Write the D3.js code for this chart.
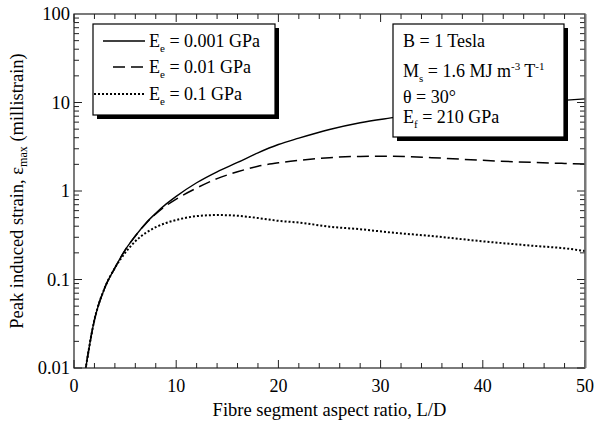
<!DOCTYPE html>
<html>
<head>
<meta charset="utf-8">
<script src="https://cdn.jsdelivr.net/npm/d3@7"></script>
<style>
  body { margin: 0; background: #fff; }
</style>
</head>
<body>
<svg id="chart" width="594" height="423" viewBox="0 0 594 423"></svg>
<script>
// aspect ratio L/D and peak strain (millistrain) for the three matrix moduli
const aspect = [1, 2, 3, 4, 5, 6, 7, 8, 9, 10, 12, 14, 16, 18, 20, 22, 25, 28, 31, 35, 40, 45, 48, 50];
const strainE0001 = [0.0078, 0.035, 0.08, 0.135, 0.215, 0.31, 0.43, 0.56, 0.71, 0.87, 1.24, 1.65, 2.1, 2.7, 3.35, 3.95, 4.95, 5.9, 6.7, 7.8, 9.0, 10.0, 10.6, 11.0];
const strainE001 = [0.0078, 0.035, 0.08, 0.135, 0.215, 0.31, 0.425, 0.55, 0.68, 0.81, 1.08, 1.38, 1.65, 1.9, 2.08, 2.22, 2.38, 2.46, 2.47, 2.38, 2.22, 2.1, 2.05, 2.02];
const strainE01 = [0.0078, 0.035, 0.08, 0.135, 0.2, 0.27, 0.335, 0.39, 0.435, 0.47, 0.52, 0.535, 0.525, 0.495, 0.46, 0.44, 0.395, 0.37, 0.34, 0.31, 0.27, 0.24, 0.225, 0.21];

const legendLabels = ["0.001 GPa", "0.01 GPa", "0.1 GPa"];
const xTicks = [0, 10, 20, 30, 40, 50];
const yTicks = [0.01, 0.1, 1, 10, 100];
const yTickLabels = ["0.01", "0.1", "1", "10", "100"];

const svg = d3.select("#chart")
    .attr("font-family", "'Liberation Serif', 'Times New Roman', Times, serif");
const margin = { left: 74, right: 9, top: 14, bottom: 55 };
const width = 594, height = 423;

const x = d3.scaleLinear().domain([0, 50]).range([margin.left, width - margin.right]);
const y = d3.scaleLog().domain([0.01, 100]).range([height - margin.bottom, margin.top]);

const series = [
    { values: strainE0001, dash: null, w: 1.4 },
    { values: strainE001, dash: "12,6", w: 1.5 },
    { values: strainE01, dash: "2,2", w: 2 }
];

svg.append("defs").append("clipPath").attr("id", "plotClip")
    .append("rect")
    .attr("x", x(0)).attr("y", y(100))
    .attr("width", x(50) - x(0)).attr("height", y(0.01) - y(100));

// curves
const line = d3.line()
    .x((d, i) => x(aspect[i]))
    .y(d => y(d))
    .curve(d3.curveMonotoneX);

const curves = svg.append("g").attr("clip-path", "url(#plotClip)");
series.forEach(s => {
    curves.append("path")
        .attr("d", line(s.values))
        .attr("fill", "none")
        .attr("stroke", "#000")
        .attr("stroke-width", s.w)
        .attr("stroke-dasharray", s.dash);
});

// ticks (inward on all four sides)
const ticks = svg.append("g").attr("stroke", "#222").attr("stroke-width", 1);
d3.range(0, 51, 2).forEach(v => {
    const len = v % 10 === 0 ? 8 : 5;
    ticks.append("line").attr("x1", x(v)).attr("x2", x(v)).attr("y1", y(0.01)).attr("y2", y(0.01) - len);
    ticks.append("line").attr("x1", x(v)).attr("x2", x(v)).attr("y1", y(100)).attr("y2", y(100) + len);
});
[0.01, 0.1, 1, 10].forEach(dec => {
    d3.range(1, 10).forEach(m => {
        const v = dec * m;
        const len = m === 1 ? 8 : 5;
        ticks.append("line").attr("x1", x(0)).attr("x2", x(0) + len).attr("y1", y(v)).attr("y2", y(v));
        ticks.append("line").attr("x1", x(50)).attr("x2", x(50) - len).attr("y1", y(v)).attr("y2", y(v));
    });
});

// frame
svg.append("rect")
    .attr("x", x(0)).attr("y", y(100))
    .attr("width", x(50) - x(0)).attr("height", y(0.01) - y(100))
    .attr("fill", "none").attr("stroke", "#222").attr("stroke-width", 1.2);
svg.append("line")
    .attr("x1", x(50) + 0.5).attr("x2", x(50) + 0.5).attr("y1", y(100)).attr("y2", y(0.01))
    .attr("stroke", "#777").attr("stroke-width", 2);

// tick labels
svg.append("g").selectAll("text").data(xTicks).join("text")
    .attr("x", d => x(d)).attr("y", y(0.01) + 24)
    .attr("text-anchor", "middle").attr("font-size", 18)
    .text(d => d);
svg.append("g").selectAll("text").data(yTicks).join("text")
    .attr("x", x(0) - 4).attr("y", d => y(d) + 6)
    .attr("text-anchor", "end").attr("font-size", 18.5)
    .text((d, i) => yTickLabels[i]);

// axis titles
svg.append("text")
    .attr("x", (x(0) + x(50)) / 2).attr("y", 416)
    .attr("text-anchor", "middle").attr("font-size", 18.5)
    .text("Fibre segment aspect ratio, L/D");

const yTitle = svg.append("text")
    .attr("transform", `translate(23,${(y(0.01) + y(100)) / 2}) rotate(-90)`)
    .attr("text-anchor", "middle").attr("font-size", 18.5);
yTitle.append("tspan").text("Peak induced strain, ε");
yTitle.append("tspan").attr("font-size", 12).attr("dy", 4).text("max");
yTitle.append("tspan").attr("dy", -4).text(" (millistrain)");

// boxes with drop shadow
function shadowBox(x0, y0, w, h) {
    svg.append("rect").attr("x", x0 + 4).attr("y", y0 + 4).attr("width", w).attr("height", h).attr("fill", "#000");
    svg.append("rect").attr("x", x0).attr("y", y0).attr("width", w).attr("height", h)
        .attr("fill", "#fff").attr("stroke", "#000").attr("stroke-width", 1.2);
}

// legend
shadowBox(93, 24, 182, 91);
const legendRows = [47, 73, 100];
const legendX = [[103, 145], [113, 145], [94, 145]];
series.forEach((s, i) => {
    svg.append("line")
        .attr("x1", legendX[i][0]).attr("x2", legendX[i][1])
        .attr("y1", legendRows[i] - 6).attr("y2", legendRows[i] - 6)
        .attr("stroke", "#000").attr("stroke-width", s.w)
        .attr("stroke-dasharray", s.dash);
    const t = svg.append("text").attr("x", 149).attr("y", legendRows[i]).attr("font-size", 18);
    t.append("tspan").text("E");
    t.append("tspan").attr("font-size", 11).attr("dy", 5).text("e");
    t.append("tspan").attr("dy", -5).text(" = " + legendLabels[i]);
});

// parameters box
shadowBox(393, 24, 171, 113);
svg.append("text").attr("x", 403).attr("y", 47).attr("font-size", 18).text("B = 1 Tesla");
const p2 = svg.append("text").attr("x", 403).attr("y", 77).attr("font-size", 18);
p2.append("tspan").text("M");
p2.append("tspan").attr("font-size", 11).attr("dy", 5).text("s");
p2.append("tspan").attr("dy", -5).text(" = 1.6 MJ m");
p2.append("tspan").attr("font-size", 11).attr("dy", -7).text("-3");
p2.append("tspan").attr("dy", 7).text(" T");
p2.append("tspan").attr("font-size", 11).attr("dy", -7).text("-1");
svg.append("text").attr("x", 403).attr("y", 103).attr("font-size", 18).text("θ = 30°");
const p4 = svg.append("text").attr("x", 403).attr("y", 123).attr("font-size", 18);
p4.append("tspan").text("E");
p4.append("tspan").attr("font-size", 11).attr("dy", 5).text("f");
p4.append("tspan").attr("dy", -5).text(" = 210 GPa");
</script>
</body>
</html>
